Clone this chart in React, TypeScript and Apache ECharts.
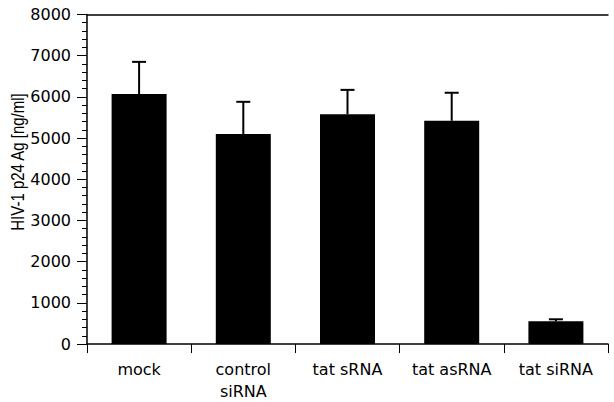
import React, { useEffect, useRef } from "react";
import * as echarts from "echarts";

const categories = ["mock", "control\nsiRNA", "tat sRNA", "tat asRNA", "tat siRNA"];
const means = [6070, 5100, 5580, 5420, 550];
const errorTops = [6850, 5880, 6170, 6100, 600];
const yTicks = { min: 0, max: 8000, interval: 1000 };
const yTitle = "HIV-1 p24 Ag [ng/ml]";

const FONT = "DejaVu Sans";

export default function App() {
  const ref = useRef<HTMLDivElement>(null);
  useEffect(() => {
    if (!ref.current) return;
    const chart = echarts.init(ref.current, null, { renderer: "svg" });
    const errData = means.map((m, i) => [i, m, errorTops[i]]);
    chart.setOption({
      animation: false,
      backgroundColor: "#fff",
      grid: { left: 87, right: 6, top: 14.5, bottom: 55, containLabel: false },
      xAxis: [
        {
          type: "category",
          data: categories,
          axisLine: { show: true, lineStyle: { color: "#000", width: 1.5 } },
          axisTick: { show: true, length: 9, lineStyle: { color: "#000", width: 1 } },
          axisLabel: {
            color: "#000",
            fontFamily: FONT,
            fontSize: 16,
            margin: 14,
            lineHeight: 22,
            interval: 0,
          },
          splitLine: { show: false },
        },
        {
          type: "category",
          position: "top",
          data: categories,
          axisLine: { show: true, lineStyle: { color: "#000", width: 1.5 } },
          axisTick: { show: false },
          axisLabel: { show: false },
        },
      ],
      yAxis: {
        type: "value",
        min: yTicks.min,
        max: yTicks.max,
        interval: yTicks.interval,
        axisLine: { show: true, lineStyle: { color: "#000", width: 1.5 } },
        axisTick: { show: true, length: 10, lineStyle: { color: "#000", width: 1 } },
        minorTick: { show: true, splitNumber: 5, length: 5, lineStyle: { color: "#000", width: 1 } },
        axisLabel: {
          color: "#000",
          fontFamily: FONT,
          fontSize: 16,
          margin: 16,
          formatter: (v: number) => String(v),
        },
        splitLine: { show: false },
      },
      graphic: [
        {
          type: "text",
          x: 18,
          y: 162,
          rotation: Math.PI / 2,
          scaleX: 1,
          scaleY: 1.2,
          style: {
            text: yTitle,
            fontFamily: "Liberation Sans",
            fontSize: 15,
            fill: "#000",
            align: "center",
            verticalAlign: "middle",
          },
        },
      ],
      series: [
        {
          type: "bar",
          data: means,
          barWidth: 55,
          itemStyle: { color: "#000" },
          z: 2,
        },
        {
          type: "custom",
          data: errData,
          z: 3,
          renderItem: (params: any, api: any) => {
            const x = api.value(0);
            const base = api.coord([x, api.value(1)]);
            const top = api.coord([x, api.value(2)]);
            const half = 7;
            const style = { stroke: "#000", lineWidth: 2 };
            return {
              type: "group",
              children: [
                { type: "line", shape: { x1: base[0], y1: base[1], x2: top[0], y2: top[1] }, style },
                { type: "line", shape: { x1: top[0] - half, y1: top[1], x2: top[0] + half, y2: top[1] }, style },
              ],
            };
          },
        },
      ],
    });
    return () => chart.dispose();
  }, []);
  return (
    <div
      ref={ref}
      style={{ position: "fixed", left: 0, top: 0, width: 614, height: 402 }}
    />
  );
}
